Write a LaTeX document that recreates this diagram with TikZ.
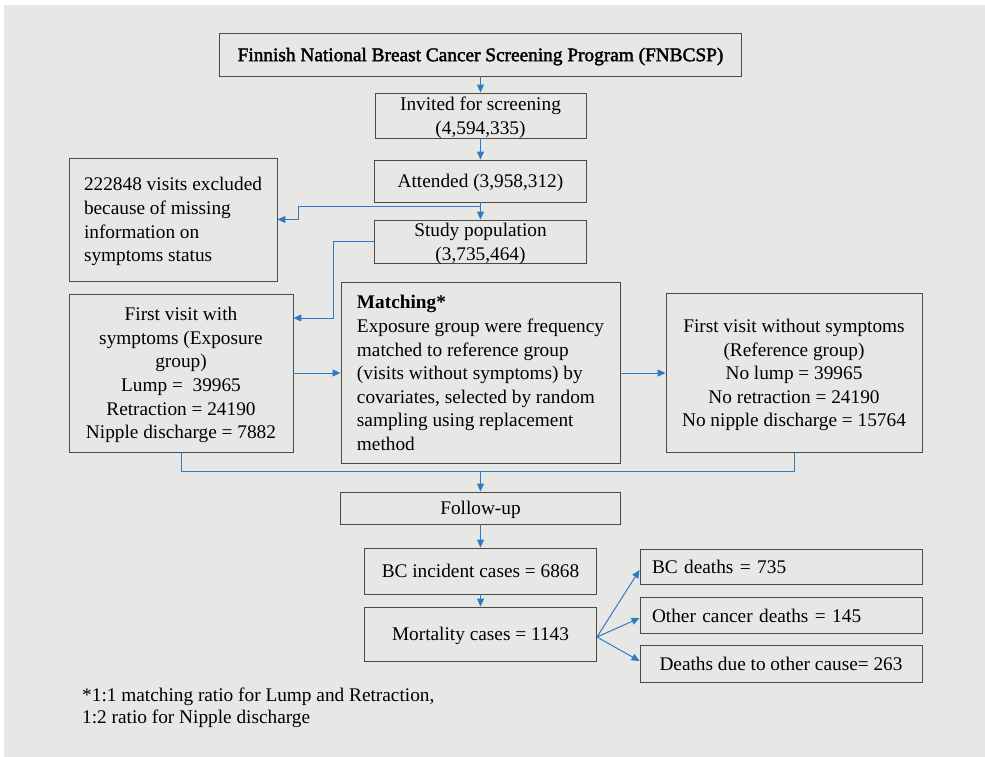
\documentclass[tikz,border=0pt]{standalone}
\usepackage{fontspec}
\setmainfont{Liberation Serif}
\newfontfamily\heavyserif[FakeBold=2]{Liberation Serif}
\usetikzlibrary{arrows.meta}

\definecolor{bgfill}{HTML}{E7E7E6}
\definecolor{boxline}{HTML}{4A4A4A}
\definecolor{flowblue}{HTML}{2E7BC4}

\tikzstyle{flow-box}=[draw=boxline, line width=0.9pt, inner sep=0pt, align=center, text depth=0pt,
      font=\fontsize{19.3}{23.6}\selectfont]
\tikzstyle{flow-left}=[flow-box, align=left, inner xsep=12pt]
\tikzstyle{flow-line}=[draw=flowblue, line width=1pt]
\tikzstyle{flow-arrow}=[flow-line, -{Triangle[length=8pt, width=7pt]}]

\begin{document}
\begin{tikzpicture}[x=1pt, y=-1pt]
      \useasboundingbox (0,0) rectangle (985,756);
      \fill[bgfill] (4,5) rectangle (990,760);

      \node (program) at (480.5, 54.5)
            [flow-box, minimum width=522, minimum height=43] {\heavyserif Finnish National Breast Cancer Screening Program (FNBCSP)};
      \node (invited) at (480.5, 115.5)
            [flow-box, minimum width=211, minimum height=45] {Invited for screening\\(4,594,335)};
      \node (attended) at (480.5, 181)
            [flow-box, minimum width=212, minimum height=42] {Attended (3,958,312)};
      \node (study) at (480.5, 241.5)
            [flow-box, minimum width=212, minimum height=43] {Study population\\(3,735,464)};
      \node (excluded) at (173, 219.5)
            [flow-left, minimum width=208, minimum height=123] {222848 visits excluded\\because of missing\\information on\\symptoms status};
      \node (exposure) at (181, 373)
            [flow-box, minimum width=224, minimum height=158] {First visit with\\symptoms (Exposure\\group)\\Lump =~ 39965\\Retraction = 24190\\Nipple discharge = 7882};
      \node (matching) at (480.5, 373)
            [flow-left, minimum width=279, minimum height=181] {\textbf{Matching*}\\Exposure group were frequency\\matched to reference group\\(visits without symptoms) by\\covariates, selected by random\\sampling using replacement\\method};
      \node (reference) at (794, 373)
            [flow-box, minimum width=256, minimum height=159] {First visit without symptoms\\(Reference group)\\No lump = 39965\\No retraction = 24190\\No nipple discharge = 15764};
      \node (followup) at (480.5, 508)
            [flow-box, minimum width=280, minimum height=32] {Follow-up};
      \node (incident) at (480.5, 571)
            [flow-box, minimum width=232, minimum height=46] {BC incident cases = 6868};
      \node (mortality) at (480.5, 634)
            [flow-box, minimum width=232, minimum height=54] {Mortality cases = 1143};
      \node (bcdeaths) at (781, 566.5)
            [flow-left, text width=258, minimum height=35] {BC deaths = 735};
      \node (otherdeaths) at (781, 615.5)
            [flow-left, text width=258, minimum height=36] {Other cancer deaths = 145};
      \node (causedeaths) at (781, 663.5)
            [flow-box, minimum width=282, minimum height=37] {Deaths due to other cause= 263};
      \node (footnote) at (82, 708)
            [anchor=west, inner sep=0pt, align=left, font=\fontsize{19.3}{22.5}\selectfont] {*1:1 matching ratio for Lump and Retraction,\\1:2 ratio for Nipple discharge};

      \coordinate (split) at (480.5, 206);
      \coordinate (turn) at (333, 318);
      \coordinate (join) at (480.5, 471);

      \draw[flow-arrow] (program) -- (invited);
      \draw[flow-arrow] (invited) -- (attended);
      \draw[flow-arrow] (attended) -- (study);
      \draw[flow-arrow] (split) -| ([xshift=21pt]excluded.east) -- (excluded.east);
      \draw[flow-arrow] (study.west) -| (turn) -- (turn -| exposure.east);
      \draw[flow-arrow] (exposure) -- (matching);
      \draw[flow-arrow] (matching) -- (reference);
      \draw[flow-line] (exposure.south) |- (join) -| (reference.south);
      \draw[flow-arrow] (join) -- (followup);
      \draw[flow-arrow] (followup) -- (incident);
      \draw[flow-arrow] (incident) -- (mortality);
      \draw[flow-arrow] ([yshift=-3pt]mortality.east) -- ([yshift=-3.5pt]bcdeaths.west);
      \draw[flow-arrow] ([yshift=-3pt]mortality.east) -- ([yshift=-2.5pt]otherdeaths.west);
      \draw[flow-arrow] ([yshift=-3pt]mortality.east) -- ([yshift=2.5pt]causedeaths.west);
\end{tikzpicture}
\end{document}
